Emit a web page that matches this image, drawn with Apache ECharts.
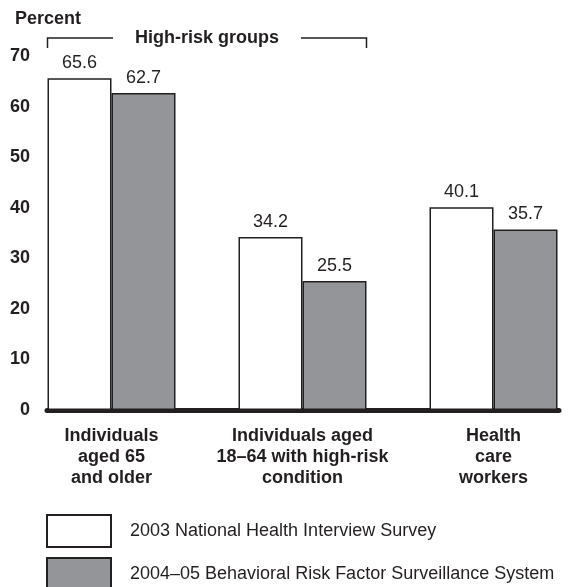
<!DOCTYPE html>
<html>
<head>
<meta charset="utf-8">
<script src="https://cdn.jsdelivr.net/npm/echarts@6/dist/echarts.min.js"></script>
<style>
html,body{margin:0;padding:0;background:#fff;}
#c{width:570px;height:587px;}
</style>
</head>
<body>
<div id="c"></div>
<script>
const categories = ['Individuals\naged 65\nand older', 'Individuals aged\n18–64 with high-risk\ncondition', 'Health\ncare\nworkers'];
const seriesNames = ['2003 National Health Interview Survey', '2004–05 Behavioral Risk Factor Surveillance System'];
const nhis2003 = [65.6, 34.2, 40.1];
const brfss0405 = [62.7, 25.5, 35.7];
const bracketLabel = 'High-risk groups';
const yAxisTitle = 'Percent';

const FONT = '"Liberation Sans", Arial, Helvetica, sans-serif';
const INK = '#231f20';
const GRAY = '#939598';
const BAR_W = 64;

const chart = echarts.init(document.getElementById('c'), null, {renderer: 'canvas'});
const catIdx = categories.map((c, i) => i);

chart.setOption({
  animation: false,
  backgroundColor: '#fff',
  textStyle: {fontFamily: FONT, color: INK},
  grid: {left: 47, right: 11, top: 56, bottom: 177},
  title: {
    text: yAxisTitle, left: 10, top: 5,
    textStyle: {fontFamily: FONT, fontSize: 18, fontWeight: 'bold', color: INK}
  },
  legend: {
    orient: 'vertical', left: 46, top: 514, height: 120, padding: 0,
    itemWidth: 64, itemHeight: 32, itemGap: 9,
    icon: 'rect',
    data: seriesNames,
    selectedMode: false,
    textStyle: {fontFamily: FONT, fontSize: 18, color: INK, padding: [0, 0, 0, 14]}
  },
  xAxis: {
    type: 'value',
    min: -0.3377, max: 2.3429,
    splitLine: {show: false},
    axisTick: {show: false},
    axisLine: {show: true, onZero: true, lineStyle: {color: INK, width: 5}},
    axisLabel: {
      customValues: catIdx,
      formatter: v => categories[Math.round(v)] || '',
      fontFamily: FONT, fontSize: 18, fontWeight: 'bold', color: INK,
      lineHeight: 21, margin: 16, align: 'center'
    }
  },
  yAxis: {
    type: 'value', min: 0, max: 70, interval: 10,
    splitLine: {show: false},
    axisTick: {show: false},
    axisLine: {show: false},
    axisLabel: {fontFamily: FONT, fontSize: 18, fontWeight: 'bold', color: INK, margin: 17}
  },
  series: [
    {
      name: seriesNames[0], type: 'bar', barWidth: BAR_W, barGap: '0%',
      data: catIdx.map(i => [i, nhis2003[i]]),
      itemStyle: {color: '#ffffff', borderColor: INK, borderWidth: 1.5},
      label: {show: true, position: 'top', distance: 6, fontFamily: FONT, fontSize: 18, color: INK,
        formatter: p => p.value[1].toFixed(1)}
    },
    {
      name: seriesNames[1], type: 'bar', barWidth: BAR_W, barGap: '0%',
      data: catIdx.map(i => [i, brfss0405[i]]),
      itemStyle: {color: GRAY, borderColor: INK, borderWidth: 1.5},
      label: {show: true, position: 'top', distance: 6, fontFamily: FONT, fontSize: 18, color: INK,
        formatter: p => p.value[1].toFixed(1)}
    }
  ]
});

// bracket over the high-risk groups (first two categories)
const x0 = chart.convertToPixel({xAxisIndex: 0}, 0) - BAR_W;
const x1 = chart.convertToPixel({xAxisIndex: 0}, 1) + BAR_W;
const mid = (x0 + x1) / 2;
const yTop = 38, yBot = 48, gapHalf = 94;
chart.setOption({
  graphic: [
    {type: 'polyline', shape: {points: [[x0, yBot], [x0, yTop], [mid - gapHalf, yTop]]},
      style: {stroke: INK, lineWidth: 1.5, fill: null}},
    {type: 'polyline', shape: {points: [[mid + gapHalf, yTop], [x1, yTop], [x1, yBot]]},
      style: {stroke: INK, lineWidth: 1.5, fill: null}},
    {type: 'text', x: mid, y: yTop,
      style: {text: bracketLabel, align: 'center', verticalAlign: 'middle',
        font: 'bold 18px ' + FONT, fill: INK}}
  ]
});
</script>
</body>
</html>
